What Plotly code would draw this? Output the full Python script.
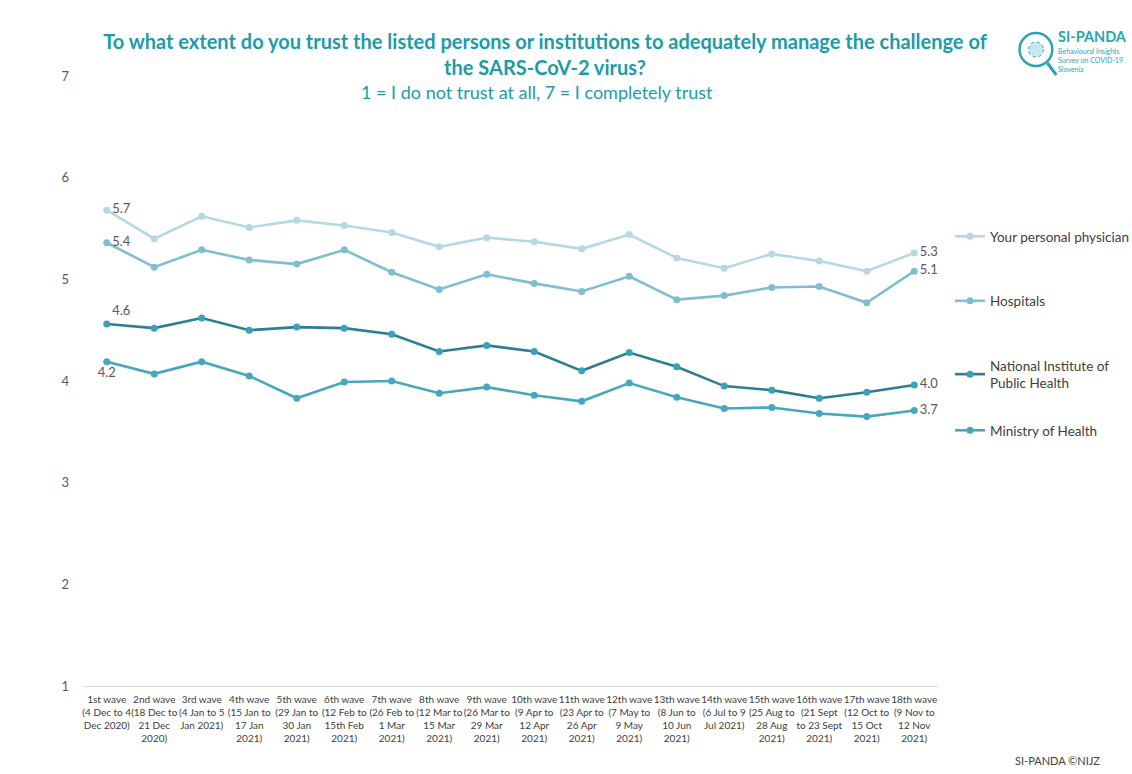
import plotly.graph_objects as go

waves = [
    "1st wave<br>(4 Dec to 4<br>Dec 2020)",
    "2nd wave<br>(18 Dec to<br>21 Dec<br>2020)",
    "3rd wave<br>(4 Jan to 5<br>Jan 2021)",
    "4th wave<br>(15 Jan to<br>17 Jan<br>2021)",
    "5th wave<br>(29 Jan to<br>30 Jan<br>2021)",
    "6th wave<br>(12 Feb to<br>15th Feb<br>2021)",
    "7th wave<br>(26 Feb to<br>1 Mar<br>2021)",
    "8th wave<br>(12 Mar to<br>15 Mar<br>2021)",
    "9th wave<br>(26 Mar to<br>29 Mar<br>2021)",
    "10th wave<br>(9 Apr to<br>12 Apr<br>2021)",
    "11th wave<br>(23 Apr to<br>26 Apr<br>2021)",
    "12th wave<br>(7 May to<br>9 May<br>2021)",
    "13th wave<br>(8 Jun to<br>10 Jun<br>2021)",
    "14th wave<br>(6 Jul to 9<br>Jul 2021)",
    "15th wave<br>(25 Aug to<br>28 Aug<br>2021)",
    "16th wave<br>(21 Sept<br>to 23 Sept<br>2021)",
    "17th wave<br>(12 Oct to<br>15 Oct<br>2021)",
    "18th wave<br>(9 Nov to<br>12 Nov<br>2021)",
]

physician = [5.68, 5.40, 5.62, 5.51, 5.58, 5.53, 5.46, 5.32, 5.41, 5.37,
             5.30, 5.44, 5.21, 5.11, 5.25, 5.18, 5.08, 5.26]
hospitals = [5.36, 5.12, 5.29, 5.19, 5.15, 5.29, 5.07, 4.90, 5.05, 4.96,
             4.88, 5.03, 4.80, 4.84, 4.92, 4.93, 4.77, 5.08]
niph = [4.56, 4.52, 4.62, 4.50, 4.53, 4.52, 4.46, 4.29, 4.35, 4.29,
        4.10, 4.28, 4.14, 3.95, 3.91, 3.83, 3.89, 3.96]
ministry = [4.19, 4.07, 4.19, 4.05, 3.83, 3.99, 4.00, 3.88, 3.94, 3.86,
            3.80, 3.98, 3.84, 3.73, 3.74, 3.68, 3.65, 3.71]

series = [
    ("Your personal physician", physician, "#b5d8e2", "#b5d8e2", "middle right", "legend"),
    ("Hospitals", hospitals, "#7fbed0", "#7fbed0", "middle right", "legend"),
    ("National Institute of<br>Public Health", niph, "#2d7e92", "#38a2ba", "top right", "legend"),
    ("Ministry of Health", ministry, "#47a7bf", "#47a7bf", "bottom center", "legend2"),
]

FONT = "Lato, 'Open Sans', sans-serif"
fig = go.Figure()
n = len(waves)
for i, (name, vals, lc, mc, firstpos, lg) in enumerate(series):
    texts = [""] * n
    texts[0] = f"{vals[0]:.1f}"
    texts[-1] = f"{vals[-1]:.1f}"
    positions = ["middle right"] * n
    positions[0] = firstpos
    fig.add_trace(go.Scatter(
        x=list(range(n)), y=vals, name=name, mode="lines+markers+text",
        line=dict(color=lc, width=2.6),
        marker=dict(color=mc, size=7),
        text=texts, textposition=positions,
        textfont=dict(color="#595959", size=13, family=FONT),
        legendgroup=f"g{i}", legend=lg, cliponaxis=False,
    ))

LEGX = 950 / 1132.0
fig.update_layout(
    width=1132, height=774,
    margin=dict(l=83, r=189, t=76, b=88),
    paper_bgcolor="white", plot_bgcolor="white",
    font=dict(family=FONT, color="#404040"),
    title=dict(
        text="<b>To what extent do you trust the listed persons or institutions to adequately manage the challenge of<br>the SARS-CoV-2 virus?</b>",
        x=545 / 1132.0, xanchor="center", y=1 - 49 / 774.0, yanchor="top",
        font=dict(size=20, color="#1c9ca7", family=FONT),
    ),
    showlegend=True,
    legend=dict(
        xref="container", yref="container",
        x=LEGX, xanchor="left", y=1 - 221 / 774.0, yanchor="top",
        font=dict(size=13.5, color="#404040", family=FONT),
        tracegroupgap=44, bgcolor="rgba(0,0,0,0)",
        itemwidth=30,
    ),
    legend2=dict(
        xref="container", yref="container",
        x=LEGX, xanchor="left", y=1 - 415 / 774.0, yanchor="top",
        font=dict(size=13.5, color="#404040", family=FONT),
        bgcolor="rgba(0,0,0,0)", itemwidth=30,
    ),
    xaxis=dict(
        tickmode="array", tickvals=list(range(n)), ticktext=waves,
        range=[-0.5, n - 0.5], showgrid=False, zeroline=False,
        showline=True, linecolor="#d9d9d9", linewidth=1, ticks="",
        tickfont=dict(size=10, color="#404040", family=FONT), tickangle=0,
        ticklabelstandoff=4,
    ),
    yaxis=dict(
        range=[1, 7], tickvals=[1, 2, 3, 4, 5, 6, 7], showgrid=False,
        zeroline=False, showline=False, ticks="",
        tickfont=dict(size=13, color="#595959", family=FONT),
        ticklabelstandoff=13,
    ),
)

fig.add_annotation(
    text="1 = I do not trust at all, 7 = I completely trust",
    xref="paper", yref="paper", x=(540 - 83) / 860.0, y=1.0 + (76 - 92) / 610.0,
    xanchor="center", yanchor="middle", showarrow=False,
    font=dict(size=18, color="#1c9ca7", family=FONT),
)

# logo (approximation)
fig.add_annotation(
    text="<b>SI-PANDA</b>", xref="paper", yref="paper",
    x=(1062 - 83) / 860.0, y=1.0 + (76 - 37) / 610.0,
    xanchor="left", yanchor="middle", showarrow=False,
    font=dict(size=14.5, color="#2aa5b0", family=FONT),
)
fig.add_annotation(
    text="Behavioural Insights<br>Survey on COVID-19<br>Slovenia", xref="paper", yref="paper",
    x=(1062 - 83) / 860.0, y=1.0 + (76 - 60) / 610.0,
    xanchor="left", yanchor="middle", showarrow=False, align="left",
    font=dict(size=7, color="#2aa5b0", family=FONT),
)
fig.add_shape(type="circle", xref="paper", yref="paper",
              x0=(1025 - 83) / 860.0, x1=(1058 - 83) / 860.0,
              y0=1.0 + (76 - 66) / 610.0, y1=1.0 + (76 - 33) / 610.0,
              line=dict(color="#2aa5b0", width=2.5), fillcolor="rgba(0,0,0,0)")
fig.add_shape(type="circle", xref="paper", yref="paper",
              x0=(1034 - 83) / 860.0, x1=(1049 - 83) / 860.0,
              y0=1.0 + (76 - 57) / 610.0, y1=1.0 + (76 - 42) / 610.0,
              line=dict(color="#2aa5b0", width=1, dash="dot"), fillcolor="rgba(42,165,176,0.25)")
fig.add_shape(type="line", xref="paper", yref="paper",
              x0=(1053 - 83) / 860.0, x1=(1062 - 83) / 860.0,
              y0=1.0 + (76 - 63) / 610.0, y1=1.0 + (76 - 75) / 610.0,
              line=dict(color="#2aa5b0", width=3))

fig.add_annotation(
    text="SI-PANDA ©NIJZ", xref="paper", yref="paper",
    x=(1063 - 83) / 860.0, y=-(760 - 686) / 610.0,
    xanchor="center", yanchor="middle", showarrow=False,
    font=dict(size=11, color="#404040", family=FONT),
)

fig.write_html("out.html")
